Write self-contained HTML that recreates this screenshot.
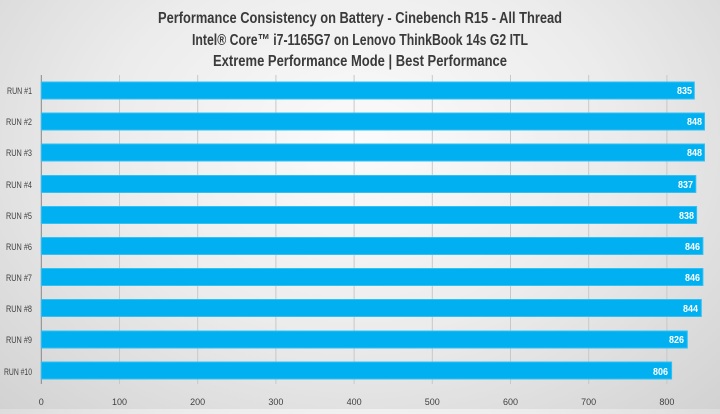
<!DOCTYPE html>
<html><head><style>
body{margin:0;width:720px;height:409px;overflow:hidden;background:radial-gradient(ellipse at 50% 35%,#fbfbfb 0%,#ececec 50%,#d2d2d2 100%);font-family:"Liberation Sans",sans-serif;}
svg text{font-family:"Liberation Sans",sans-serif;}
</style></head><body>
<svg width="720" height="409" xmlns="http://www.w3.org/2000/svg">
<g font-size="16" font-weight="bold" fill="#3a3a3a" lengthAdjust="spacingAndGlyphs">
<text x="158" y="23" textLength="404" lengthAdjust="spacingAndGlyphs">Performance Consistency on Battery - Cinebench R15 - All Thread</text>
<text x="192" y="45" textLength="336" lengthAdjust="spacingAndGlyphs">Intel® Core™ i7-1165G7 on Lenovo ThinkBook 14s G2 ITL</text>
<text x="213" y="66" textLength="294" lengthAdjust="spacingAndGlyphs">Extreme Performance Mode | Best Performance</text>
</g>
<g stroke="#c8c8c8" stroke-width="1">
<line x1="119.5" y1="75" x2="119.5" y2="384"/><line x1="197.7" y1="75" x2="197.7" y2="384"/>
<line x1="275.9" y1="75" x2="275.9" y2="384"/><line x1="354.1" y1="75" x2="354.1" y2="384"/>
<line x1="432.3" y1="75" x2="432.3" y2="384"/><line x1="510.5" y1="75" x2="510.5" y2="384"/>
<line x1="588.7" y1="75" x2="588.7" y2="384"/><line x1="666.9" y1="75" x2="666.9" y2="384"/>
</g>
<line x1="41.3" y1="75" x2="41.3" y2="384" stroke="#888" stroke-width="1"/>
<g fill="#00b0f0" stroke="#33c0f4" stroke-width="1">
<rect x="41.3" y="82" width="653" height="17"/>
<rect x="41.3" y="113" width="663.2" height="17"/>
<rect x="41.3" y="144" width="663.2" height="17"/>
<rect x="41.3" y="175.5" width="654.5" height="17"/>
<rect x="41.3" y="206.5" width="655.3" height="17"/>
<rect x="41.3" y="237.5" width="661.6" height="17"/>
<rect x="41.3" y="268.5" width="661.6" height="17"/>
<rect x="41.3" y="299.5" width="660" height="17"/>
<rect x="41.3" y="331" width="646" height="17"/>
<rect x="41.3" y="362" width="630.3" height="17"/>
</g>
<g font-size="10" fill="#fff" font-weight="bold">
<text x="677" y="94" textLength="15" lengthAdjust="spacingAndGlyphs">835</text>
<text x="687" y="125" textLength="15" lengthAdjust="spacingAndGlyphs">848</text>
<text x="687" y="156" textLength="15" lengthAdjust="spacingAndGlyphs">848</text>
<text x="678" y="188" textLength="15" lengthAdjust="spacingAndGlyphs">837</text>
<text x="679" y="219" textLength="15" lengthAdjust="spacingAndGlyphs">838</text>
<text x="685" y="250" textLength="15" lengthAdjust="spacingAndGlyphs">846</text>
<text x="685" y="281" textLength="15" lengthAdjust="spacingAndGlyphs">846</text>
<text x="683" y="312" textLength="15" lengthAdjust="spacingAndGlyphs">844</text>
<text x="669" y="343" textLength="15" lengthAdjust="spacingAndGlyphs">826</text>
<text x="653" y="375" textLength="15" lengthAdjust="spacingAndGlyphs">806</text>
</g>
<g font-size="9" fill="#404040">
<text x="7" y="94" textLength="25" lengthAdjust="spacingAndGlyphs">RUN #1</text>
<text x="6" y="125" textLength="26" lengthAdjust="spacingAndGlyphs">RUN #2</text>
<text x="6" y="156" textLength="26" lengthAdjust="spacingAndGlyphs">RUN #3</text>
<text x="6" y="188" textLength="26" lengthAdjust="spacingAndGlyphs">RUN #4</text>
<text x="6" y="219" textLength="26" lengthAdjust="spacingAndGlyphs">RUN #5</text>
<text x="6" y="250" textLength="26" lengthAdjust="spacingAndGlyphs">RUN #6</text>
<text x="6" y="281" textLength="26" lengthAdjust="spacingAndGlyphs">RUN #7</text>
<text x="6" y="312" textLength="26" lengthAdjust="spacingAndGlyphs">RUN #8</text>
<text x="6" y="343" textLength="26" lengthAdjust="spacingAndGlyphs">RUN #9</text>
<text x="4" y="375" textLength="28" lengthAdjust="spacingAndGlyphs">RUN #10</text>
</g>
<g font-size="9" fill="#404040" text-anchor="middle">
<text x="41.3" y="405">0</text><text x="119.5" y="405">100</text><text x="197.7" y="405">200</text>
<text x="275.9" y="405">300</text><text x="354.1" y="405">400</text><text x="432.3" y="405">500</text>
<text x="510.5" y="405">600</text><text x="588.7" y="405">700</text><text x="666.9" y="405">800</text>
</g>
</svg>
</body></html>
